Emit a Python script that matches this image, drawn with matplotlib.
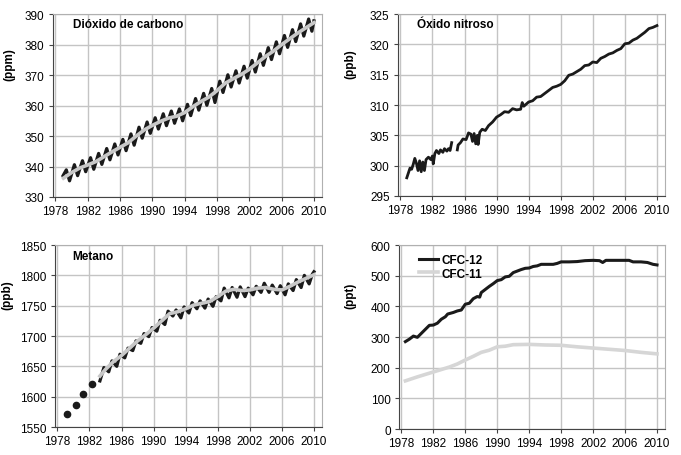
import numpy as np
import matplotlib.pyplot as plt

plt.rcParams['font.family'] = ['Liberation Sans', 'DejaVu Sans']

# --- Dióxido de carbono (ppm) ---
co2_t = [1978.95,
         1979.35, 1979.75, 1980.35, 1980.75, 1981.35, 1981.75, 1982.35, 1982.75,
         1983.35, 1983.75, 1984.35, 1984.75, 1985.35, 1985.75, 1986.35, 1986.75,
         1987.35, 1987.75, 1988.35, 1988.75, 1989.35, 1989.75, 1990.35, 1990.75,
         1991.35, 1991.75, 1992.35, 1992.75, 1993.35, 1993.75, 1994.35, 1994.75,
         1995.35, 1995.75, 1996.35, 1996.75, 1997.35, 1997.75, 1998.35, 1998.75,
         1999.35, 1999.75, 2000.35, 2000.75, 2001.35, 2001.75, 2002.35, 2002.75,
         2003.35, 2003.75, 2004.35, 2004.75, 2005.35, 2005.75, 2006.35, 2006.75,
         2007.35, 2007.75, 2008.35, 2008.75, 2009.35, 2009.75, 2010.0]
co2_v = [337.0,
         338.9, 335.3, 340.6, 337.0, 341.9, 338.3, 342.9, 339.1,
         344.3, 340.7, 345.9, 342.2, 347.4, 343.8, 348.9, 345.2,
         350.7, 347.0, 352.9, 349.3, 354.6, 350.9, 356.0, 352.3,
         357.3, 353.4, 358.2, 354.2, 358.9, 355.0, 360.4, 356.7,
         362.3, 358.5, 364.0, 360.1, 365.6, 361.0, 368.0, 364.3,
         370.1, 366.1, 371.4, 367.4, 372.9, 369.0, 374.8, 371.0,
         377.0, 373.2, 379.0, 375.1, 380.9, 377.0, 383.0, 379.1,
         384.9, 381.0, 386.8, 382.8, 388.4, 384.4, 387.8]
co2_trend_t = list(range(1979, 2011))
co2_trend_v = [336.2, 338.0, 339.5, 340.5, 341.6, 343.2, 344.8, 346.3, 347.8, 350.0,
               352.0, 353.5, 354.8, 355.9, 356.5, 357.7, 359.6, 361.3, 362.8, 364.9,
               367.3, 368.8, 370.2, 371.9, 374.0, 376.1, 377.9, 380.0, 381.9, 383.8,
               385.5, 387.2]

# --- Óxido nitroso (ppb) ---
n2o_t1 = [1978.8, 1979.0, 1979.2, 1979.4, 1979.6, 1979.8, 1980.0, 1980.2, 1980.4,
          1980.6, 1980.8, 1981.0, 1981.2, 1981.5, 1981.8, 1982.0, 1982.1, 1982.3,
          1982.5, 1982.8, 1983.0, 1983.3, 1983.5, 1983.8, 1984.0, 1984.2, 1984.4]
n2o_v1 = [298.0, 298.8, 299.6, 299.4, 300.2, 301.2, 300.4, 299.2, 300.8,
          299.0, 300.6, 299.2, 301.0, 301.4, 301.0, 301.6, 300.3, 302.0,
          302.5, 302.0, 302.6, 302.2, 302.8, 302.4, 302.8, 302.5, 303.8]
n2o_t2 = [1985.1, 1985.2, 1985.5, 1985.8, 1986.2, 1986.5, 1986.8, 1987.0, 1987.2,
          1987.4, 1987.6, 1987.7, 1987.9, 1988.2, 1988.6, 1989.0, 1989.5, 1990.0,
          1990.5, 1991.0, 1991.5, 1992.0, 1992.5, 1993.0, 1993.2, 1993.4, 1994.0,
          1994.5, 1995.0, 1995.5, 1996.0, 1996.5, 1997.0, 1997.5, 1998.0, 1998.5,
          1999.0, 1999.5, 2000.0, 2000.5, 2001.0, 2001.5, 2002.0, 2002.5, 2003.0,
          2003.5, 2004.0, 2004.5, 2005.0, 2005.5, 2006.0, 2006.5, 2007.0, 2007.5,
          2008.0, 2008.5, 2009.0, 2009.5, 2010.0]
n2o_v2 = [302.6, 303.4, 303.8, 304.4, 304.3, 305.4, 305.2, 304.0, 305.3,
          303.6, 305.0, 303.5, 305.5, 306.0, 305.8, 306.6, 307.2, 308.0,
          308.4, 308.9, 308.8, 309.4, 309.2, 309.3, 310.4, 309.8, 310.5,
          310.7, 311.3, 311.4, 311.9, 312.4, 312.9, 313.1, 313.4, 314.0,
          314.9, 315.1, 315.5, 315.9, 316.5, 316.6, 317.1, 317.0, 317.7,
          318.0, 318.4, 318.6, 319.0, 319.3, 320.1, 320.2, 320.7, 321.0,
          321.5, 322.0, 322.6, 322.8, 323.1]

# --- Metano (ppb) ---
ch4_dot_t = [1979.2, 1980.3, 1981.25, 1982.25]
ch4_dot_v = [1571, 1587, 1604, 1621]
ch4_t = [1983.3, 1983.8, 1984.4, 1984.8, 1985.4, 1985.8, 1986.4, 1986.8, 1987.4,
         1987.8, 1988.4, 1988.8, 1989.4, 1989.8, 1990.4, 1990.8, 1991.4, 1991.8,
         1992.4, 1992.8, 1993.4, 1993.8, 1994.4, 1994.8, 1995.4, 1995.8, 1996.4,
         1996.8, 1997.4, 1997.8, 1998.4, 1998.8, 1999.4, 1999.8, 2000.4, 2000.8,
         2001.4, 2001.8, 2002.4, 2002.8, 2003.4, 2003.8, 2004.4, 2004.8, 2005.4,
         2005.8, 2006.4, 2006.8, 2007.4, 2007.8, 2008.4, 2008.8, 2009.4, 2009.8,
         2010.0]
ch4_v = [1626, 1648, 1641, 1659, 1650, 1670, 1664, 1680, 1676,
         1692, 1688, 1704, 1699, 1714, 1708, 1726, 1719, 1741,
         1733, 1743, 1730, 1748, 1738, 1755, 1745, 1758, 1746,
         1761, 1749, 1765, 1758, 1779, 1763, 1780, 1764, 1781,
         1765, 1779, 1768, 1782, 1772, 1787, 1772, 1784, 1770,
         1783, 1768, 1786, 1775, 1793, 1780, 1800, 1786, 1802,
         1806]
ch4_trend_t = [1983.3, 1984, 1985, 1986, 1987, 1988, 1989, 1990, 1991, 1992, 1993,
               1994, 1995, 1996, 1997, 1998, 1999, 2000, 2001, 2002, 2003, 2004,
               2005, 2006, 2007, 2008, 2009, 2010]
ch4_trend_v = [1634, 1645, 1658, 1668, 1680, 1692, 1702, 1713, 1725, 1737, 1740,
               1745, 1751, 1754, 1757, 1765, 1774, 1777, 1775, 1776, 1779, 1780,
               1777, 1776, 1782, 1789, 1795, 1801]

# --- CFC (ppt) ---
cfc12_t = [1978.5, 1979.0, 1979.5, 1980.0, 1980.5, 1981.0, 1981.5, 1982.0, 1982.5,
           1983.0, 1983.5, 1983.8, 1984.5, 1985.0, 1985.5, 1986.0, 1986.5, 1987.0,
           1987.5, 1987.8, 1988.0, 1988.5, 1989.0, 1989.5, 1990.0, 1990.5, 1991.0,
           1991.5, 1992.0, 1992.5, 1993.0, 1993.5, 1994.0, 1994.5, 1995.0, 1995.5,
           1996.0, 1997.0, 1997.5, 1998.0, 1999.0, 2000.0, 2001.0, 2002.0, 2002.8,
           2003.2, 2003.6, 2004.5, 2005.5, 2006.5, 2007.0, 2008.0, 2008.8, 2009.5,
           2010.0]
cfc12_v = [285, 293, 303, 299, 312, 325, 338, 339, 345,
           358, 366, 375, 380, 385, 388, 407, 410, 425,
           432, 430, 445, 455, 465, 474, 484, 487, 496,
           498, 510, 515, 520, 524, 525, 530, 532, 537,
           537, 537, 540, 545, 545, 546, 549, 550, 549,
           543, 550, 550, 550, 550, 545, 545, 543, 537,
           535]
cfc11_t = [1978.5, 1980, 1982, 1984, 1985, 1986, 1987, 1988, 1989, 1990, 1991,
           1992, 1994, 1996, 1998, 2000, 2002, 2004, 2006, 2008, 2010]
cfc11_v = [157, 170, 186, 202, 212, 225, 237, 250, 257, 268, 270,
           275, 276, 274, 273, 268, 264, 260, 256, 250, 245]

years = np.arange(1978, 2011, 4)
black = '#1a1a1a'
light = '#c8c8c8'

fig = plt.figure(figsize=(6.81, 4.56), dpi=100)
ax1 = fig.add_axes([0.0778, 0.5658, 0.395, 0.401])
ax2 = fig.add_axes([0.5844, 0.5680, 0.392, 0.399])
ax3 = fig.add_axes([0.0808, 0.0614, 0.392, 0.399])
ax4 = fig.add_axes([0.5859, 0.0570, 0.3906, 0.4035])


def style(ax, ylim, step, ylabel, labx):
    ax.set_xlim(1977.7, 2011.0)
    ax.set_ylim(*ylim)
    ax.set_xticks(years)
    ax.set_yticks(np.arange(ylim[0], ylim[1] + step / 2, step))
    ax.grid(True, color='#c4c4c4', linewidth=1.0)
    ax.set_axisbelow(True)
    for s in ['top', 'right']:
        ax.spines[s].set_color('#b0b0b0')
    for s in ['left', 'bottom']:
        ax.spines[s].set_color('#444444')
    ax.tick_params(labelsize=8.5, length=3, color='#444444', pad=3)
    ax.set_ylabel(ylabel, fontsize=8.5, fontweight='bold')
    ax.yaxis.set_label_coords(labx, 0.73)


# CO2
ax1.plot(co2_t, co2_v, color=black, lw=2.3, zorder=3)
ax1.plot(co2_trend_t, co2_trend_v, color=light, lw=2.6, zorder=4)
style(ax1, (330, 390), 10, '(ppm)', -0.141)
ax1.text(0.073, 0.945, 'Dióxido de carbono', transform=ax1.transAxes,
         fontsize=8.5, fontweight='bold', va='center')

# N2O
ax2.plot(n2o_t1, n2o_v1, color=black, lw=2.0, zorder=3)
ax2.plot(n2o_t2, n2o_v2, color=black, lw=2.0, zorder=3)
style(ax2, (295, 325), 5, '(ppb)', -0.155)
ax2.text(0.07, 0.945, 'Óxido nitroso', transform=ax2.transAxes,
         fontsize=8.5, fontweight='bold', va='center')

# CH4
ax3.plot(ch4_dot_t, ch4_dot_v, 'o', color=black, ms=4.5, zorder=3)
ax3.plot(ch4_t, ch4_v, color=black, lw=2.3, zorder=3)
ax3.plot(ch4_trend_t, ch4_trend_v, color=light, lw=2.6, zorder=4)
style(ax3, (1550, 1850), 50, '(ppb)', -0.157)
ax3.text(0.066, 0.938, 'Metano', transform=ax3.transAxes,
         fontsize=8.5, fontweight='bold', va='center')

# CFC
ax4.plot(cfc12_t, cfc12_v, color=black, lw=2.2, zorder=3, label='CFC-12')
ax4.plot(cfc11_t, cfc11_v, color='#d6d6d6', lw=2.6, zorder=3, label='CFC-11')
style(ax4, (0, 600), 100, '(ppt)', -0.162)
leg = ax4.legend(loc='upper left', bbox_to_anchor=(0.045, 0.995), frameon=False,
                 fontsize=8.5, handlelength=1.6, handletextpad=0.25,
                 labelspacing=0.12, borderaxespad=0.3)
for t in leg.get_texts():
    t.set_fontweight('bold')

fig.savefig('out.png', dpi=100)
